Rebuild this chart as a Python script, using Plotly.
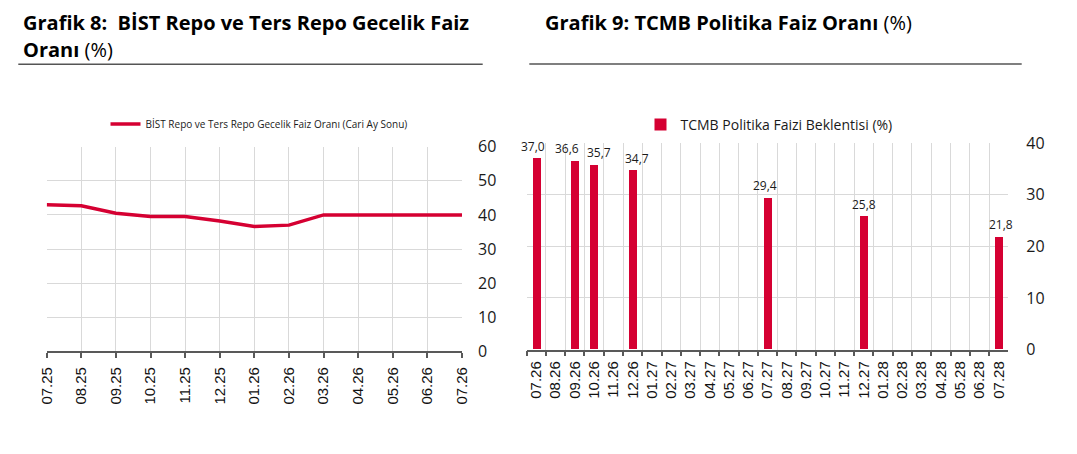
import plotly.graph_objects as go

# ---- Data ----
left_months = ["07.25", "08.25", "09.25", "10.25", "11.25", "12.25", "01.26",
               "02.26", "03.26", "04.26", "05.26", "06.26", "07.26"]
left_rate = [43.0, 42.7, 40.5, 39.5, 39.5, 38.2, 36.6, 37.0, 40.0, 40.0, 40.0, 40.0, 40.0]

right_months = ["07.26", "08.26", "09.26", "10.26", "11.26", "12.26", "01.27", "02.27",
                "03.27", "04.27", "05.27", "06.27", "07.27", "08.27", "09.27", "10.27",
                "11.27", "12.27", "01.28", "02.28", "03.28", "04.28", "05.28", "06.28", "07.28"]
right_expect = [37.0, None, 36.6, 35.7, None, 34.7, None, None, None, None, None, None,
                29.4, None, None, None, None, 25.8, None, None, None, None, None, None, 21.8]

left_yticks = [0, 10, 20, 30, 40, 50, 60]
right_yticks = [0, 10, 20, 30, 40]

# horizontal nudges (px) for data labels, to avoid overlaps as in the original
label_nudge = {"07.26": -3, "09.26": -8, "10.26": 5, "12.26": 4,
               "07.27": -3, "12.27": 0, "07.28": 2}

RED = "#D50032"
GRID = "#D9D9D9"
AXIS = "#595959"
W, H = 1077, 454

fig = go.Figure()

fig.add_trace(go.Scatter(
    x=left_months, y=left_rate, mode="lines",
    line=dict(color=RED, width=3.5),
    name="BİST Repo ve Ters Repo Gecelik Faiz Oranı (Cari Ay Sonu)",
    xaxis="x", yaxis="y", legend="legend", showlegend=True,
))

fig.add_trace(go.Bar(
    x=right_months, y=right_expect, width=0.42,
    marker=dict(color=RED, line=dict(width=0)),
    name="TCMB Politika Faizi Beklentisi (%)",
    xaxis="x2", yaxis="y2", legend="legend2", showlegend=True,
))

# data labels placed through the axes' own scales (category index on x2)
for i, (m, v) in enumerate(zip(right_months, right_expect)):
    if v is None:
        continue
    fig.add_annotation(
        xref="x2", yref="y2", x=i, y=v, xanchor="center", yanchor="bottom",
        text=f"{v:.1f}".replace(".", ","), showarrow=False,
        xshift=label_nudge.get(m, 0), yshift=2,
        font=dict(family="Open Sans", size=12, color="#1a1a1a"),
    )

def px_x(p):
    return p / W

def px_y(p):
    return 1 - p / H

xtickfont = dict(family="Liberation Sans", size=15, color="#111111")
ytickfont = dict(family="Open Sans", size=16, color="#1a1a1a")

fig.update_layout(
    width=W, height=H,
    margin=dict(l=0, r=0, t=0, b=0, autoexpand=False),
    paper_bgcolor="white", plot_bgcolor="white",
    separators=",.",
    bargap=0,
    xaxis=dict(
        domain=[px_x(46.7), px_x(462)], anchor="y", automargin=False,
        type="category", range=[0, len(left_months) - 1],
        showgrid=True, gridcolor=GRID, gridwidth=1,
        showline=True, linecolor=AXIS, linewidth=1.5,
        ticks="outside", ticklen=5, tickcolor=AXIS, tickwidth=1.5,
        tickangle=-90, tickfont=xtickfont, zeroline=False,
        ticklabelstandoff=3,
    ),
    yaxis=dict(
        domain=[px_y(351.3), px_y(146.7)], anchor="x", side="right", automargin=False,
        range=[0, 60], tickvals=left_yticks,
        showgrid=True, gridcolor=GRID, gridwidth=1,
        showline=False, ticks="", tickfont=ytickfont, zeroline=False,
        ticklabelstandoff=15,
    ),
    xaxis2=dict(
        domain=[px_x(526.7), px_x(1008.3)], anchor="y2", automargin=False,
        type="category", range=[-0.5, len(right_months) - 0.5],
        tickson="boundaries",
        showgrid=True, gridcolor=GRID, gridwidth=1,
        showline=True, linecolor=AXIS, linewidth=1.5,
        ticks="outside", ticklen=5, tickcolor=AXIS, tickwidth=1.5,
        tickangle=-90, tickfont=xtickfont, zeroline=False,
        ticklabelstandoff=4,
    ),
    yaxis2=dict(
        domain=[px_y(349.5), px_y(143.3)], anchor="x2", side="right", automargin=False,
        range=[0, 40], tickvals=right_yticks,
        showgrid=True, gridcolor=GRID, gridwidth=1,
        showline=False, ticks="", zeroline=False,
        tickfont=dict(family="Open Sans", size=16, color="#1a1a1a"),
        ticklabelstandoff=17,
    ),
    legend=dict(
        orientation="h", x=px_x(259), y=px_y(124), xanchor="center", yanchor="middle",
        font=dict(family="Open Sans", size=10, color="#1a1a1a"),
        bgcolor="rgba(0,0,0,0)",
    ),
    legend2=dict(
        orientation="h", x=px_x(769), y=px_y(125), xanchor="center", yanchor="middle",
        font=dict(family="Open Sans", size=14, color="#1a1a1a"),
        bgcolor="rgba(0,0,0,0)",
    ),
    showlegend=True,
)

title_font = dict(family="Open Sans", size=20, color="#000000")
fig.add_annotation(
    xref="paper", yref="paper", x=px_x(21), y=px_y(23), xanchor="left", yanchor="middle",
    text="<b>Grafik 8:  BİST Repo ve Ters Repo Gecelik Faiz</b>", showarrow=False, font=title_font,
)
fig.add_annotation(
    xref="paper", yref="paper", x=px_x(21), y=px_y(49), xanchor="left", yanchor="middle",
    text="<b>Oranı</b> (%)", showarrow=False, font=title_font,
)
fig.add_annotation(
    xref="paper", yref="paper", x=px_x(543), y=px_y(22), xanchor="left", yanchor="middle",
    text="<b>Grafik 9: TCMB Politika Faiz Oranı</b> (%)", showarrow=False, font=title_font,
)

fig.add_shape(type="line", xref="paper", yref="paper",
              x0=px_x(18.3), x1=px_x(482.7), y0=px_y(64.3), y1=px_y(64.3),
              line=dict(color="#555555", width=1.5))
fig.add_shape(type="line", xref="paper", yref="paper",
              x0=px_x(529.3), x1=px_x(1021.7), y0=px_y(64), y1=px_y(64),
              line=dict(color="#555555", width=1.5))

fig.write_html("out.html")
